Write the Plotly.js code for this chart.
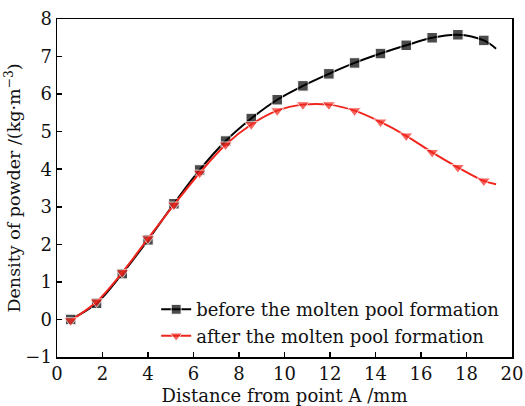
<!DOCTYPE html>
<html>
<head>
<meta charset="utf-8">
<script src="https://cdn.plot.ly/plotly-3.0.1.min.js"></script>
<style>html,body{margin:0;padding:0;background:#fff;}#chart{width:525px;height:406px;}</style>
</head>
<body>
<div id="chart"></div>
<script>
// Distance from point A (mm); last value is the end of the fitted curve (no marker)
const distance = [0.6, 1.74, 2.87, 4.0, 5.14, 6.27, 7.41, 8.54, 9.68, 10.81, 11.95, 13.08, 14.22, 15.35, 16.49, 17.62, 18.76, 19.3];
const beforeDensity = [0, 0.43, 1.22, 2.12, 3.08, 3.98, 4.75, 5.35, 5.85, 6.22, 6.54, 6.83, 7.08, 7.30, 7.50, 7.58, 7.43, 7.21];
const afterDensity = [-0.03, 0.47, 1.25, 2.15, 3.05, 3.9, 4.65, 5.19, 5.56, 5.72, 5.72, 5.56, 5.26, 4.89, 4.45, 4.05, 3.69, 3.6];
const seriesNames = ["before the molten pool formation", "after the molten pool formation"];
const xTicks = [0, 2, 4, 6, 8, 10, 12, 14, 16, 18, 20];
const yTicks = [-1, 0, 1, 2, 3, 4, 5, 6, 7, 8];

const markerSizes = distance.map((d, i) => i === distance.length - 1 ? 0 : 10.5);
const font = "DejaVu Serif, Liberation Serif, serif";

const traces = [
  {
    x: distance, y: beforeDensity, name: seriesNames[0], type: "scatter", mode: "lines+markers",
    line: {color: "#000000", width: 2, shape: "spline"},
    marker: {symbol: "square", size: markerSizes, color: "#000000"}
  },
  {
    x: distance, y: afterDensity, name: seriesNames[1], type: "scatter", mode: "lines+markers",
    line: {color: "#f0261e", width: 2, shape: "spline"},
    marker: {symbol: "triangle-down", size: markerSizes.map(s => s ? 11.5 : 0), color: "#f0261e"}
  }
];

const layout = {
  width: 525, height: 406,
  margin: {l: 57, r: 13, t: 19, b: 49},
  paper_bgcolor: "#fff", plot_bgcolor: "#fff",
  font: {family: font, size: 18, color: "#111"},
  showlegend: true,
  legend: {x: 0.218, y: 0.195, xanchor: "left", yanchor: "top", bgcolor: "rgba(0,0,0,0)",
           font: {family: font, size: 18, color: "#111"}, tracegroupgap: 0, itemwidth: 30},
  xaxis: {
    range: [0, 20], tickvals: xTicks, ticktext: xTicks.map(String),
    showline: true, linecolor: "#000", linewidth: 1.5, mirror: true,
    ticks: "inside", ticklen: 5, tickcolor: "#000", tickwidth: 1.5,
    showgrid: false, zeroline: false,
    tickfont: {family: font, size: 18, color: "#111"},
    title: {text: "Distance from point A /mm", font: {family: font, size: 18, color: "#111"}, standoff: 6}
  },
  yaxis: {
    range: [-1, 8], tickvals: yTicks, ticktext: yTicks.map(v => v < 0 ? "\u2212" + Math.abs(v) : String(v)),
    showline: true, linecolor: "#000", linewidth: 1.5, mirror: true,
    ticks: "inside", ticklen: 5, tickcolor: "#000", tickwidth: 1.5,
    showgrid: false, zeroline: false,
    tickfont: {family: font, size: 18, color: "#111"},
    title: {text: "Density of powder /(kg\u00b7m<sup>\u22123</sup>)", font: {family: font, size: 17.5, color: "#111"}, standoff: 0}
  }
};

Plotly.newPlot("chart", traces, layout, {displayModeBar: false, staticPlot: true});
</script>
</body>
</html>
